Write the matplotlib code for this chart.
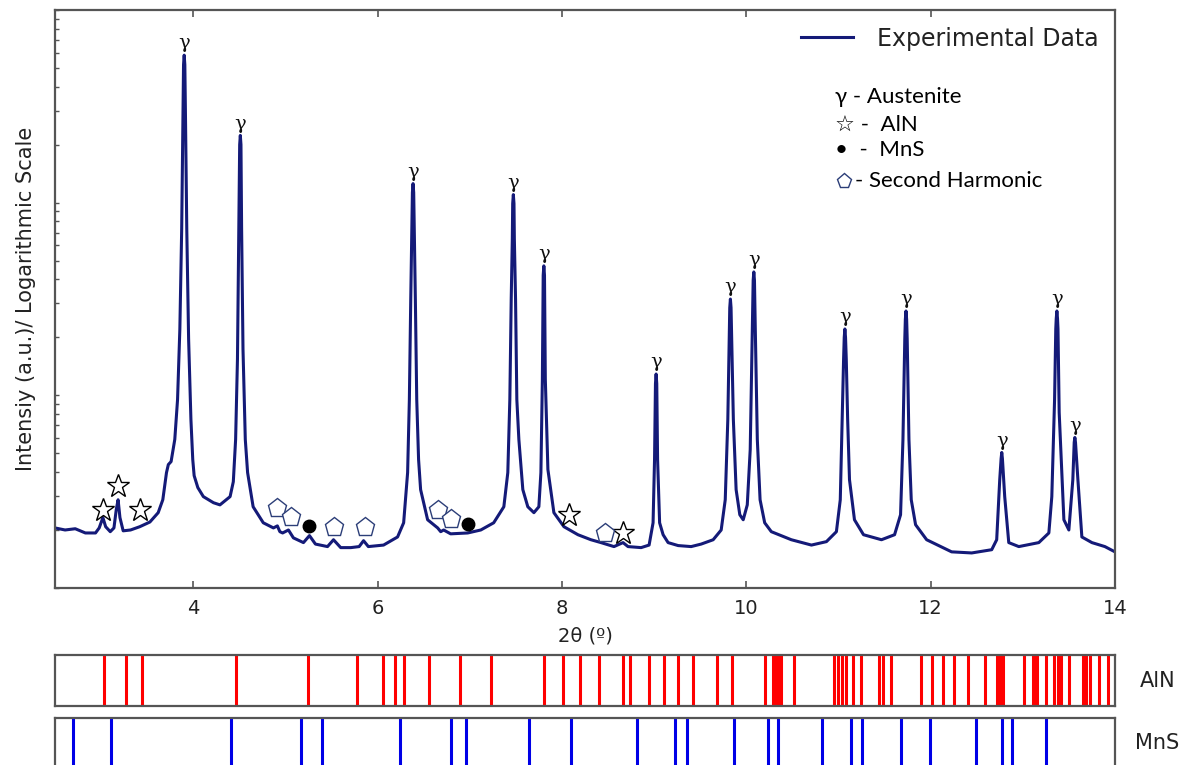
import matplotlib
matplotlib.use('Agg')
import matplotlib.pyplot as plt

# difratograma medido (2θ em graus, intensidade em u.a.), por trecho
two_theta = [
    2.50, 2.61, 2.72, 2.83, 2.94, 2.98, 3.02, 3.05, 3.10, 3.14, 3.165, 3.185, 3.205, 3.24,
    3.32, 3.42, 3.53, 3.62, 3.67, 3.71, 3.73, 3.76, 3.80, 3.83, 3.855, 3.875, 3.89, 3.895,
    3.902, 3.909, 3.915, 3.93, 3.95, 3.975, 3.995, 4.01, 4.05, 4.11, 4.22, 4.29, 4.40,
    4.435, 4.46, 4.48, 4.495, 4.504, 4.511, 4.518, 4.525, 4.54, 4.565, 4.59, 4.65,
    4.76, 4.87, 4.913, 4.94, 4.97, 5.033, 5.087, 5.196, 5.261, 5.326, 5.457, 5.522,
    5.60, 5.71, 5.80, 5.848, 5.90, 6.065, 6.217, 6.283, 6.326, 6.345, 6.36, 6.372, 6.378,
    6.385, 6.392, 6.398, 6.41, 6.425, 6.445, 6.467, 6.543, 6.652, 6.685, 6.717, 6.793,
    6.978, 7.12, 7.26, 7.37, 7.413, 7.435, 7.45, 7.462, 7.466, 7.473, 7.480, 7.484,
    7.497, 7.511, 7.533, 7.576, 7.63, 7.696, 7.75, 7.772, 7.788, 7.797, 7.804, 7.811,
    7.82, 7.848, 7.913, 8.022, 8.174, 8.315, 8.424, 8.565, 8.663, 8.717, 8.859, 8.946,
    8.989, 9.005, 9.015, 9.022, 9.029, 9.038, 9.06, 9.098, 9.152, 9.261, 9.402, 9.511,
    9.641, 9.728, 9.772, 9.80, 9.815, 9.821, 9.828, 9.835, 9.842, 9.86, 9.89, 9.93,
    9.967, 10.011, 10.043, 10.065, 10.075, 10.082, 10.089, 10.098, 10.12, 10.15, 10.20,
    10.272, 10.489, 10.707, 10.87, 10.978, 11.02, 11.04, 11.056, 11.063, 11.07, 11.077,
    11.085, 11.10, 11.12, 11.174, 11.272, 11.467, 11.609, 11.674, 11.70, 11.72, 11.726,
    11.733, 11.74, 11.746, 11.765, 11.79, 11.837, 11.957, 12.228, 12.446, 12.663, 12.717,
    12.75, 12.765, 12.772, 12.779, 12.804, 12.848, 12.957, 13.174, 13.283, 13.315, 13.345,
    13.358, 13.363, 13.37, 13.377, 13.382, 13.395, 13.446, 13.50, 13.543, 13.558, 13.565,
    13.572, 13.598, 13.641, 13.75, 13.891, 14.0]
intensity = [
    20.5, 20.0, 20.3, 19.3, 19.3, 20.5, 23.2, 20.8, 19.6, 20.5, 25.5, 28.7, 23.2, 19.8,
    20.0, 20.8, 22.0, 24.6, 28.7, 39.7, 43.7, 45.3, 59, 95, 221, 733, 3090, 5200,
    5830, 5200, 3090, 733, 196, 75, 46.4, 38.3, 33.2, 29.8, 27.7, 27.0, 29.8,
    35.6, 59, 154, 733, 2000, 2234, 2000, 733, 174, 59, 39.7, 26.4,
    21.8, 20.5, 21.0, 19.6, 19.3, 20.0, 18.2, 17.2, 18.7, 16.9, 16.4, 17.8,
    16.2, 16.2, 16.4, 17.6, 16.4, 16.7, 18.4, 21.8, 39.7, 95, 316, 733, 1130,
    1256, 1130, 733, 316, 95, 46.4, 32.4, 22.6, 20.5, 19.6, 20.0, 19.1,
    19.3, 20.0, 21.8, 26.4, 39.7, 95, 316, 649, 990, 1101, 990, 649,
    316, 95, 59, 32.4, 26.4, 24.6, 26.4, 39.7, 121, 420, 470, 420,
    121, 41.2, 24.6, 20.8, 18.9, 17.8, 17.2, 16.4, 17.2, 16.4, 16.2, 16.7,
    21.8, 46.4, 115, 129, 115, 46.4, 21.8, 18.9, 17.2, 16.6, 16.4, 16.9,
    17.8, 20.0, 28.7, 75, 196, 285, 316, 285, 196, 75, 32.4, 24.0,
    22.6, 27.0, 52.3, 221, 395, 437, 395, 221, 59, 28.7, 21.8,
    19.6, 17.8, 16.7, 17.4, 19.6, 28.7, 75, 154, 200, 221, 200,
    154, 75, 36.5, 22.6, 18.9, 17.8, 18.9, 24.0, 59, 196, 248,
    274, 248, 196, 59, 28.7, 21.3, 17.8, 15.4, 15.2, 15.8, 17.8,
    36.5, 47, 50.5, 47, 29.8, 17.2, 16.4, 17.2, 19.3, 29.8, 95,
    221, 250, 274, 250, 221, 81.5, 22.6, 20.0, 36.5, 57, 60.4,
    57, 36.5, 18.4, 17.2, 16.4, 15.4]

# picos da austenita
gamma_pos = [3.902, 4.511, 6.385, 7.473, 7.804, 9.022, 9.828, 10.082, 11.07, 11.733, 12.772, 13.37, 13.565]
gamma_int = [5830, 2234, 1256, 1101, 470, 129, 316, 437, 221, 274, 50.5, 274, 60.4]

# marcadores das fases secundarias
aln_pos = [3.02, 3.185, 3.424, 8.076, 8.663]
aln_int = [25.5, 34.0, 25.5, 24.0, 19.3]
mns_pos = [5.261, 6.978]
mns_int = [21.0, 21.5]
harm_pos = [4.913, 5.065, 5.522, 5.859, 6.652, 6.793, 8.467]
harm_int = [26.1, 23.4, 20.8, 20.8, 25.5, 22.9, 19.3]

# posicoes de referencia (fichas)
aln_ref = [3.036, 3.273, 3.443, 4.461, 5.249, 5.773, 6.055, 6.184, 6.282, 6.561, 6.895, 7.228,
           7.811, 8.016, 8.191, 8.404, 8.660, 8.741, 8.941, 9.103, 9.259, 9.422, 9.686, 9.849,
           10.203, 10.288, 10.325, 10.350, 10.378, 10.521, 10.957, 10.997, 11.037, 11.078,
           11.160, 11.241, 11.437, 11.485, 11.566, 11.897, 12.014, 12.137, 12.259, 12.401,
           12.585, 12.718, 12.751, 12.788, 13.012, 13.114, 13.134, 13.154, 13.257, 13.338,
           13.378, 13.420, 13.500, 13.655, 13.684, 13.724, 13.826, 13.928]
mns_ref = [2.698, 3.113, 4.407, 5.171, 5.396, 6.238, 6.793, 6.961, 7.640, 8.102, 8.818, 9.230,
           9.360, 9.870, 10.236, 10.346, 10.817, 11.139, 11.253, 11.680, 11.995, 12.495, 12.780,
           12.882, 13.257]

frame = '#555555'
txt = '#222222'

fig = plt.figure(figsize=(11.87, 7.65), dpi=100)
ax = fig.add_axes([0.0463, 0.2314, 0.893, 0.7555])

ax.plot(two_theta, intensity, color='#141a78', lw=2.2, label='Experimental Data')

for x, y in zip(gamma_pos, gamma_int):
    ax.annotate('γ', (x, y), xytext=(0, 2), textcoords='offset points', ha='center', va='bottom',
                fontsize=14, family='DejaVu Serif', color='#111111')

ax.plot(aln_pos, aln_int, ls='none', marker='*', ms=17, mfc='white', mec='black', mew=1.0)
ax.plot(mns_pos, mns_int, ls='none', marker='o', ms=9, mfc='black', mec='black')
ax.plot(harm_pos, harm_int, ls='none', marker='p', ms=14, mfc='white', mec='#2c3e78', mew=1.0)

ax.set_yscale('log')
ax.set_xlim(2.5, 14)
ax.set_ylim(10, 10000)
ax.set_xticks([4, 6, 8, 10, 12, 14])
ax.tick_params(axis='x', direction='in', top=True, length=5, width=1.2, color=frame,
               labelsize=14, labelcolor=txt, pad=8)
ax.tick_params(axis='y', which='both', direction='in', left=True, right=False,
               labelleft=False, length=3, width=1, color=frame)
for s in ax.spines.values():
    s.set_color(frame)
    s.set_linewidth(1.6)

ax.set_xlabel('2θ (º)', fontsize=14, color=txt, labelpad=6)
ax.set_ylabel('Intensiy (a.u.)/ Logarithmic Scale', fontsize=15, color=txt, labelpad=14)

leg = ax.legend(loc='upper right', frameon=False, fontsize=17, handlelength=2.2,
                borderaxespad=0.3, handletextpad=1.0)
for t in leg.get_texts():
    t.set_color(txt)

# chave dos simbolos
kx = 0.736
ax.text(kx, 0.849, 'γ - Austenite', transform=ax.transAxes, fontsize=16, family='Lato',
        color='black', va='center')
ax.text(kx, 0.801, '☆ -  AlN', transform=ax.transAxes, fontsize=16, family=['Lato', 'DejaVu Sans'],
        color='black', va='center')
ax.text(kx, 0.758, '•  -  MnS', transform=ax.transAxes, fontsize=16, family='Lato',
        color='black', va='center')
ax.plot([kx + 0.008], [0.704], transform=ax.transAxes, marker='p', ms=11, mfc='white',
        mec='#2c3e78', mew=1.0, ls='none')
ax.text(kx + 0.019, 0.704, '- Second Harmonic', transform=ax.transAxes, fontsize=16, family='Lato',
        color='black', va='center')

# paineis das fichas de referencia
ax_aln = fig.add_axes([0.0463, 0.0771, 0.893, 0.0667])
ax_mns = fig.add_axes([0.0463, -0.0052, 0.893, 0.0667])
for a, ref, c, name in [(ax_aln, aln_ref, '#ff0000', 'AlN'), (ax_mns, mns_ref, '#0000e6', 'MnS')]:
    a.vlines(ref, 0, 1, color=c, lw=2.2)
    a.set_xlim(2.5, 14)
    a.set_ylim(0, 1)
    a.set_xticks([])
    a.set_yticks([])
    for s in a.spines.values():
        s.set_color(frame)
        s.set_linewidth(1.6)
    a.text(1.04, 0.5, name, transform=a.transAxes, fontsize=15, color=txt, va='center', ha='center')

fig.savefig('out.png', dpi=100)
